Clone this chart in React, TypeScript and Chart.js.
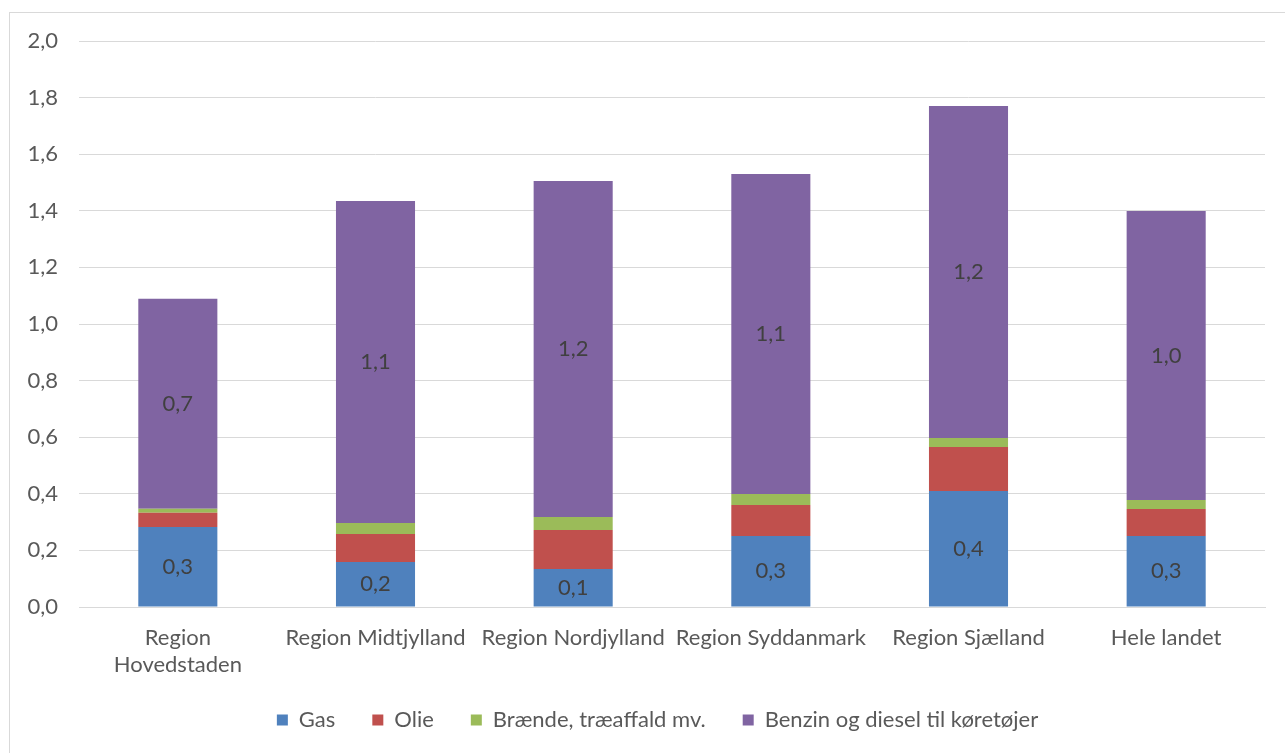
import React, { useEffect, useRef } from "react";
import { Chart, registerables } from "chart.js";

Chart.register(...registerables);

const categories: (string | string[])[] = [
  ["Region", "Hovedstaden"],
  "Region Midtjylland",
  "Region Nordjylland",
  "Region Syddanmark",
  "Region Sjælland",
  "Hele landet",
];

const gas = [0.283, 0.159, 0.134, 0.251, 0.41, 0.251];
const olie = [0.05, 0.099, 0.138, 0.109, 0.155, 0.095];
const braende = [0.014, 0.039, 0.046, 0.039, 0.032, 0.032];
const benzinDiesel = [0.742, 1.138, 1.187, 1.131, 1.173, 1.021];

const seriesNames = ["Gas", "Olie", "Brænde, træaffald mv.", "Benzin og diesel til køretøjer"];
const seriesColors = ["#4F81BD", "#C0504D", "#9BBB59", "#8064A2"];
const labelledSeries = [0, 3];

const FONT = "Lato, 'Open Sans', sans-serif";
const FONT_SIZE = 22;
const fmt = (v: number) => v.toFixed(1).replace(".", ",");

// white background, thin grey outer frame, and legend nudged to its spot
const frame = {
  id: "frame",
  beforeDraw(chart: any) {
    const { ctx, width, height } = chart;
    if (chart.legend) chart.legend.left = 50;
    ctx.save();
    ctx.fillStyle = "#ffffff";
    ctx.fillRect(0, 0, width, height);
    ctx.strokeStyle = "#D9D9D9";
    ctx.lineWidth = 1;
    ctx.strokeRect(9.5, 12.5, width + 10, height + 10);
    ctx.restore();
  },
};

// value labels centred in the Gas and Benzin/diesel segments
const segmentLabels = {
  id: "segmentLabels",
  afterDatasetsDraw(chart: any) {
    const { ctx } = chart;
    ctx.save();
    ctx.font = `${FONT_SIZE}px ${FONT}`;
    ctx.fillStyle = "#404040";
    ctx.textAlign = "center";
    ctx.textBaseline = "middle";
    labelledSeries.forEach((di) => {
      const meta = chart.getDatasetMeta(di);
      meta.data.forEach((el: any, i: number) => {
        const v = chart.data.datasets[di].data[i] as number;
        const p = el.getCenterPoint();
        ctx.fillText(fmt(v), p.x, p.y);
      });
    });
    ctx.restore();
  },
};

export default function App() {
  const ref = useRef<HTMLCanvasElement>(null);

  useEffect(() => {
    if (!ref.current) return;
    const values = [gas, olie, braende, benzinDiesel];
    const chart = new Chart(ref.current, {
      type: "bar",
      data: {
        labels: categories,
        datasets: values.map((d, i) => ({
          label: seriesNames[i],
          data: d,
          backgroundColor: seriesColors[i],
          borderWidth: 0,
          barPercentage: 0.4,
          categoryPercentage: 1,
        })),
      },
      options: {
        responsive: false,
        animation: false,
        devicePixelRatio: 1,
        layout: { padding: { left: 9, right: 20, top: 41, bottom: 12 } },
        plugins: {
          tooltip: { enabled: false },
          legend: {
            position: "bottom",
            labels: {
              boxWidth: 11,
              boxHeight: 11,
              padding: 37,
              color: "#595959",
              font: { family: FONT, size: FONT_SIZE },
            },
          },
        },
        scales: {
          x: {
            stacked: true,
            grid: { display: false, drawTicks: false },
            border: { color: "#D9D9D9", width: 1 },
            ticks: {
              color: "#595959",
              padding: 17,
              maxRotation: 0,
              autoSkip: false,
              font: { family: FONT, size: FONT_SIZE, lineHeight: 27 / 22 },
            },
            afterFit: (s: any) => {
              s.height = 65;
            },
          },
          y: {
            stacked: true,
            min: 0,
            max: 2,
            grid: { color: "#D9D9D9", lineWidth: 1, drawTicks: false },
            border: { display: false },
            ticks: {
              stepSize: 0.2,
              padding: 21,
              color: "#595959",
              font: { family: FONT, size: FONT_SIZE },
              callback: (v: any) => fmt(Number(v)),
            },
            afterFit: (s: any) => {
              s.width = 70;
            },
          },
        },
      },
      plugins: [frame, segmentLabels],
    });
    return () => chart.destroy();
  }, []);

  return (
    <canvas
      ref={ref}
      width={1285}
      height={753}
      style={{ position: "absolute", left: 0, top: 0, display: "block" }}
    />
  );
}
